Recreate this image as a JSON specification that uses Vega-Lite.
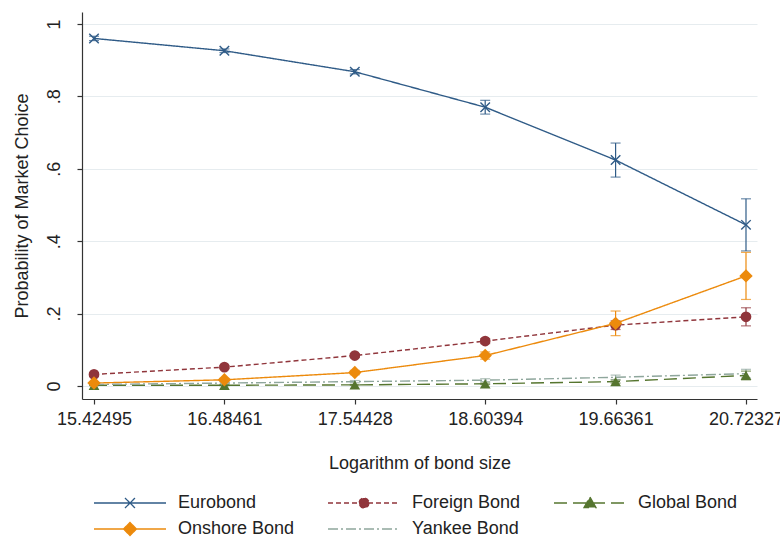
{
  "$schema": "https://vega.github.io/schema/vega-lite/v6.json",
  "width": 675,
  "height": 387,
  "autosize": {"type": "none"},
  "padding": {"left": 82, "top": 12, "right": 23, "bottom": 139},
  "background": "white",
  "config": {
    "view": {"stroke": null},
    "font": "Liberation Sans",
    "axis": {"labelFont": "Liberation Sans", "titleFont": "Liberation Sans", "labelFontSize": 18, "titleFontSize": 18, "titleFontWeight": "normal", "labelColor": "#222", "titleColor": "#222", "domainColor": "#333", "tickColor": "#333", "tickSize": 5, "domainWidth": 1.2, "tickWidth": 1.2}
  },
  "data": {
    "values": [
      {"series": "Eurobond", "x": 15.42495, "p": 0.960, "lo": 0.954, "hi": 0.966},
      {"series": "Eurobond", "x": 16.48461, "p": 0.926, "lo": 0.921, "hi": 0.931},
      {"series": "Eurobond", "x": 17.54428, "p": 0.868, "lo": 0.862, "hi": 0.874},
      {"series": "Eurobond", "x": 18.60394, "p": 0.770, "lo": 0.751, "hi": 0.789},
      {"series": "Eurobond", "x": 19.66361, "p": 0.624, "lo": 0.577, "hi": 0.671},
      {"series": "Eurobond", "x": 20.72327, "p": 0.445, "lo": 0.373, "hi": 0.517},
      {"series": "Foreign Bond", "x": 15.42495, "p": 0.032, "lo": 0.028, "hi": 0.036},
      {"series": "Foreign Bond", "x": 16.48461, "p": 0.052, "lo": 0.048, "hi": 0.056},
      {"series": "Foreign Bond", "x": 17.54428, "p": 0.084, "lo": 0.079, "hi": 0.089},
      {"series": "Foreign Bond", "x": 18.60394, "p": 0.124, "lo": 0.117, "hi": 0.131},
      {"series": "Foreign Bond", "x": 19.66361, "p": 0.168, "lo": 0.156, "hi": 0.180},
      {"series": "Foreign Bond", "x": 20.72327, "p": 0.191, "lo": 0.166, "hi": 0.216},
      {"series": "Global Bond", "x": 15.42495, "p": 0.002, "lo": 0.001, "hi": 0.003},
      {"series": "Global Bond", "x": 16.48461, "p": 0.002, "lo": 0.001, "hi": 0.003},
      {"series": "Global Bond", "x": 17.54428, "p": 0.003, "lo": 0.002, "hi": 0.004},
      {"series": "Global Bond", "x": 18.60394, "p": 0.006, "lo": 0.004, "hi": 0.008},
      {"series": "Global Bond", "x": 19.66361, "p": 0.012, "lo": 0.008, "hi": 0.016},
      {"series": "Global Bond", "x": 20.72327, "p": 0.029, "lo": 0.017, "hi": 0.041},
      {"series": "Onshore Bond", "x": 15.42495, "p": 0.008, "lo": 0.005, "hi": 0.011},
      {"series": "Onshore Bond", "x": 16.48461, "p": 0.017, "lo": 0.013, "hi": 0.021},
      {"series": "Onshore Bond", "x": 17.54428, "p": 0.037, "lo": 0.031, "hi": 0.043},
      {"series": "Onshore Bond", "x": 18.60394, "p": 0.084, "lo": 0.074, "hi": 0.094},
      {"series": "Onshore Bond", "x": 19.66361, "p": 0.173, "lo": 0.139, "hi": 0.207},
      {"series": "Onshore Bond", "x": 20.72327, "p": 0.304, "lo": 0.239, "hi": 0.369},
      {"series": "Yankee Bond", "x": 15.42495, "p": 0.004, "lo": 0.002, "hi": 0.006},
      {"series": "Yankee Bond", "x": 16.48461, "p": 0.008, "lo": 0.005, "hi": 0.011},
      {"series": "Yankee Bond", "x": 17.54428, "p": 0.012, "lo": 0.009, "hi": 0.015},
      {"series": "Yankee Bond", "x": 18.60394, "p": 0.016, "lo": 0.012, "hi": 0.020},
      {"series": "Yankee Bond", "x": 19.66361, "p": 0.024, "lo": 0.018, "hi": 0.030},
      {"series": "Yankee Bond", "x": 20.72327, "p": 0.034, "lo": 0.022, "hi": 0.046}
    ]
  },
  "encoding": {
    "x": {
      "field": "x", "type": "quantitative",
      "scale": {"domain": [15.3274, 20.8127], "nice": false, "zero": false},
      "axis": {"values": [15.42495, 16.48461, 17.54428, 18.60394, 19.66361, 20.72327], "format": ".5f", "title": "Logarithm of bond size", "grid": false, "labelPadding": 6, "titlePadding": 26, "labelFlush": false, "labelOverlap": false}
    },
    "color": {
      "field": "series", "type": "nominal",
      "scale": {"domain": ["Eurobond", "Foreign Bond", "Global Bond", "Onshore Bond", "Yankee Bond"], "range": ["#2f5b87", "#90353b", "#55752f", "#ec8a0c", "#8ea69c"]},
      "legend": {
        "orient": "bottom", "direction": "horizontal", "columns": 3, "title": null,
        "labelFont": "Liberation Sans", "labelFontSize": 18, "labelColor": "#222", "labelOffset": 63,
        "columnPadding": 30, "rowPadding": 6, "symbolSize": 400, "symbolStrokeWidth": 1.3, "offset": 9, "padding": 11,
        "encode": {
          "symbols": {
            "update": {
              "shape": {"signal": "datum.value === 'Eurobond' ? 'M-1,0H6.2M2.1,-0.5L3.1,0.5M2.1,0.5L3.1,-0.5' : datum.value === 'Foreign Bond' ? 'M-1,0H6.2M3.1,0A0.5,0.5,0,1,1,2.1,0A0.5,0.5,0,1,1,3.1,0Z' : datum.value === 'Global Bond' ? 'M-1,0H6.2M2.6,-0.6L3.2,0.45L2.0,0.45Z' : datum.value === 'Onshore Bond' ? 'M-1,0H6.2M2.6,-0.65L3.25,0L2.6,0.65L1.95,0Z' : 'M-1,0H6.2'"},
              "strokeDash": {"signal": "datum.value === 'Foreign Bond' ? [4, 3] : datum.value === 'Global Bond' ? [12, 6] : datum.value === 'Yankee Bond' ? [10, 3, 2, 3] : [1, 0]"},
              "fill": {"signal": "datum.value === 'Eurobond' || datum.value === 'Yankee Bond' ? 'transparent' : scale('color', datum.value)"},
              "stroke": {"signal": "scale('color', datum.value)"},
              "strokeWidth": {"value": 1.3},
              "opacity": {"value": 1}
            }
          }
        }
      }
    }
  },
  "layer": [
    {
      "mark": {"type": "rule", "strokeWidth": 1.2},
      "encoding": {
        "y": {"field": "lo", "type": "quantitative", "title": "Probability of Market Choice",
          "scale": {"domain": [-0.036, 1.033], "nice": false, "zero": false},
          "axis": {"values": [0, 0.2, 0.4, 0.6, 0.8, 1], "labelExpr": "datum.value == 0 ? '0' : datum.value == 1 ? '1' : replace(format(datum.value, '.1f'), '0.', '.')", "labelAngle": -90, "labelAlign": "center", "labelBaseline": "bottom", "labelPadding": 14, "grid": true, "gridColor": "#e6ecef", "gridWidth": 1, "titlePadding": 14}},
        "y2": {"field": "hi"}
      }
    },
    {
      "mark": {"type": "tick", "orient": "horizontal", "size": 10, "thickness": 1.2},
      "encoding": {"y": {"field": "lo", "type": "quantitative", "title": "Probability of Market Choice"}}
    },
    {
      "mark": {"type": "tick", "orient": "horizontal", "size": 10, "thickness": 1.2},
      "encoding": {"y": {"field": "hi", "type": "quantitative", "title": "Probability of Market Choice"}}
    },
    {
      "mark": {"type": "line", "strokeWidth": 1.4},
      "encoding": {
        "y": {"field": "p", "type": "quantitative", "title": "Probability of Market Choice"},
        "strokeDash": {"field": "series", "type": "nominal", "legend": null,
          "scale": {"domain": ["Eurobond", "Foreign Bond", "Global Bond", "Onshore Bond", "Yankee Bond"], "range": [[1, 0], [5, 3], [13, 6], [1, 0], [10, 3, 2, 3]]}}
      }
    },
    {
      "transform": [{"filter": "datum.series === 'Eurobond'"}],
      "mark": {"type": "point", "shape": "M-1,-1L1,1M-1,1L1,-1", "filled": false, "size": 90, "strokeWidth": 1.4, "opacity": 1},
      "encoding": {"y": {"field": "p", "type": "quantitative", "title": "Probability of Market Choice"}}
    },
    {
      "transform": [{"filter": "datum.series !== 'Eurobond' && datum.series !== 'Yankee Bond'"}],
      "mark": {"type": "point", "filled": true, "size": 115, "opacity": 1},
      "encoding": {
        "y": {"field": "p", "type": "quantitative", "title": "Probability of Market Choice"},
        "shape": {"field": "series", "type": "nominal", "legend": null,
          "scale": {"domain": ["Foreign Bond", "Global Bond", "Onshore Bond"], "range": ["circle", "triangle-up", "M0,-1.25L1.25,0L0,1.25L-1.25,0Z"]}}
      }
    }
  ]
}
